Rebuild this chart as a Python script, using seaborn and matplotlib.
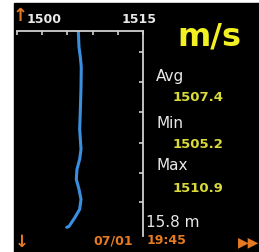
import matplotlib
matplotlib.use("Agg")
import matplotlib.pyplot as plt
from matplotlib.patches import Rectangle
import matplotlib.transforms as mtransforms
import seaborn as sns
import pandas as pd

# ---- data ----
depth_m = [0.0, 1.29, 2.10, 2.90, 4.52, 6.37, 7.90, 9.52, 10.32, 11.13, 11.94,
           12.74, 13.55, 14.35, 15.0, 15.73, 15.8]
speed_ms = [1507.30, 1507.38, 1507.54, 1507.65, 1507.62, 1507.54, 1507.46,
            1507.62, 1507.46, 1507.14, 1507.06, 1507.38, 1507.62, 1507.46,
            1506.90, 1506.19, 1505.92]
x_ticks = [1500, 1503, 1506, 1509, 1512, 1515]
x_ticklabels = ["1500", "", "", "", "", "1515"]
y_ticks = [1.7, 4.1, 6.5, 9.0, 11.4, 13.8]
unit_label = "m/s"
stat_names = ["Avg", "Min", "Max"]
stat_values = ["1507.4", "1505.2", "1510.9"]
depth_label = "15.8 m"
date_label = "07/01"
time_label = "19:45"

sns.set_style("dark")
plt.rcParams["font.family"] = ["DejaVu Sans"]

W, H = 259, 253
fig = plt.figure(figsize=(W / 100, H / 100), dpi=100, facecolor="white")
fig.patches.append(Rectangle((14 / W, 0), 1 - 14 / W, (H - 4) / H,
                             transform=fig.transFigure, color="black", zorder=-10))

ax = fig.add_axes([17 / W, (H - 237) / H, 126 / W, 205 / H])
ax.set_facecolor("black")

df = pd.DataFrame({"depth": depth_m, "speed": speed_ms})
sns.lineplot(data=df, x="speed", y="depth", orient="y", sort=False,
             color="#3a8fe0", linewidth=2.2, ax=ax,
             solid_joinstyle="round", solid_capstyle="round")

ax.set_xlim(1500, 1515)
ax.set_ylim(16.5, 0)
ax.grid(False)
for s in ["left", "bottom"]:
    ax.spines[s].set_visible(False)
for s in ["top", "right"]:
    ax.spines[s].set_visible(True)
    ax.spines[s].set_color("#d0d0d0")
    ax.spines[s].set_linewidth(1.3)

ax.xaxis.tick_top()
ax.set_xticks(x_ticks)
ax.set_xticklabels(x_ticklabels)
ax.tick_params(axis="x", direction="in", length=3, width=1.2, color="#d0d0d0",
               labelcolor="#e8e8e8", labelsize=9, pad=4)
labels = ax.get_xticklabels()
for lbl in labels:
    lbl.set_fontweight("bold")
labels[0].set_horizontalalignment("left")
labels[0].set_transform(labels[0].get_transform() +
                        mtransforms.ScaledTranslation(10 / 100, 0, fig.dpi_scale_trans))
labels[-1].set_transform(labels[-1].get_transform() +
                         mtransforms.ScaledTranslation(-4 / 100, 0, fig.dpi_scale_trans))
ax.yaxis.tick_right()
ax.set_yticks(y_ticks)
ax.set_yticklabels([])
ax.tick_params(axis="y", direction="in", length=3, width=1.2, color="#d0d0d0")
ax.set_xlabel("")
ax.set_ylabel("")

def ft(x, y, s, **kw):
    fig.text(x / W, 1 - y / H, s, va="center", **kw)

ft(177, 37, unit_label, color="#f2f022", fontsize=23, fontweight="bold")
white = "#e8e8e8"
yellow = "#d9d93a"
rows = [(77, 98), (124, 145), (166, 188)]
for name, val, (yn, yv) in zip(stat_names, stat_values, rows):
    ft(156, yn, name, color=white, fontsize=11)
    ft(173, yv, val, color=yellow, fontsize=9.5, fontweight="bold")
ft(146, 223, depth_label, color=white, fontsize=11)

orange = "#e57a22"
ft(93, 241, date_label, color=orange, fontsize=9, fontweight="bold")
ft(147, 241, time_label, color=orange, fontsize=9, fontweight="bold")
ft(13, 16, "↑", color=orange, fontsize=13, fontweight="bold")
ft(15, 242, "↓", color=orange, fontsize=12, fontweight="bold")
ft(238, 242, "▶▶", color=orange, fontsize=10)

fig.savefig("out.png", dpi=100, facecolor="white")
